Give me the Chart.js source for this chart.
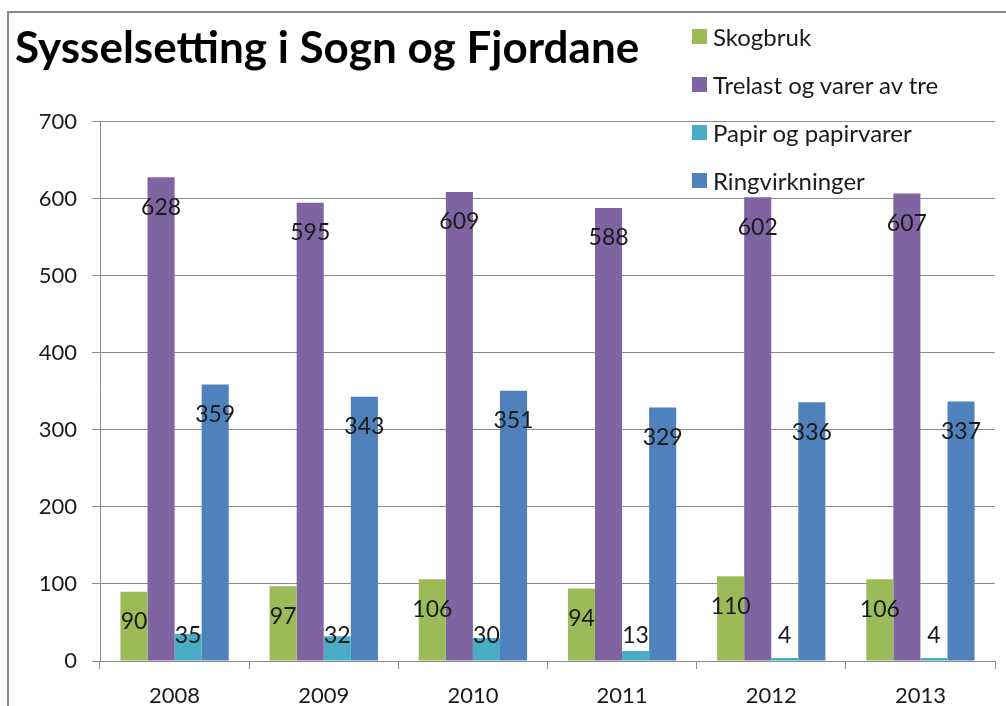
<!DOCTYPE html>
<html>
<head>
<meta charset="utf-8">
<script src="https://cdn.jsdelivr.net/npm/chart.js@4"></script>
<style>
html,body{margin:0;padding:0;background:#fff;}
#wrap{position:relative;width:1006px;height:706px;overflow:hidden;}
#c{position:absolute;left:0;top:0;}
#legend{position:absolute;left:692px;top:13px;font-family:Lato,"Open Sans",sans-serif;font-size:24px;color:#1a1a1a;}
.item{display:flex;align-items:center;height:47.8px;white-space:nowrap;}
.box{width:15px;height:15px;margin-right:6px;flex:none;}
</style>
</head>
<body>
<div id="wrap">
<canvas id="c" width="1006" height="706"></canvas>
<div id="legend"></div>
</div>
<script>
const categories = ['2008','2009','2010','2011','2012','2013'];
const seriesNames = ['Skogbruk','Trelast og varer av tre','Papir og papirvarer','Ringvirkninger'];
const skogbruk = [90, 97, 106, 94, 110, 106];
const trelast = [628, 595, 609, 588, 602, 607];
const papir = [35, 32, 30, 13, 4, 4];
const ringvirkninger = [359, 343, 351, 329, 336, 337];
const seriesColors = ['#9BBB59', '#8064A2', '#4BACC6', '#4F81BD'];
const yMin = 0, yMax = 700, yStep = 100;
const titleText = 'Sysselsetting i Sogn og Fjordane';

const seriesValues = [skogbruk, trelast, papir, ringvirkninger];
const FONT = 'Lato, "Open Sans", sans-serif';
const GRID = '#8c8c8c';

// HTML legend
const lg = document.getElementById('legend');
seriesNames.forEach((n, i) => {
  const it = document.createElement('div'); it.className = 'item';
  const b = document.createElement('span'); b.className = 'box'; b.style.background = seriesColors[i];
  const t = document.createElement('span'); t.textContent = n;
  it.appendChild(b); it.appendChild(t); lg.appendChild(it);
});

const framePlugin = {
  id: 'frame',
  beforeDraw(chart) {
    const ctx = chart.ctx;
    ctx.save();
    ctx.strokeStyle = '#8a8a8a';
    ctx.lineWidth = 2;
    ctx.beginPath();
    ctx.moveTo(8, 706); ctx.lineTo(8, 12); ctx.lineTo(1006, 12);
    ctx.stroke();
    ctx.restore();
  }
};

const labelPlugin = {
  id: 'valueLabels',
  afterDatasetsDraw(chart) {
    const ctx = chart.ctx;
    const zero = chart.scales.y.getPixelForValue(0);
    ctx.save();
    ctx.font = '23px ' + FONT;
    ctx.fillStyle = '#1a1a1a';
    ctx.textAlign = 'center';
    ctx.textBaseline = 'middle';
    chart.data.datasets.forEach((ds, di) => {
      const meta = chart.getDatasetMeta(di);
      meta.data.forEach((el, i) => {
        const y = Math.min(el.y + 30, zero - 25);
        ctx.fillText(String(ds.data[i]), el.x, y);
      });
    });
    ctx.restore();
  }
};

new Chart(document.getElementById('c'), {
  type: 'bar',
  data: {
    labels: categories,
    datasets: seriesNames.map((n, i) => ({
      label: n,
      data: seriesValues[i],
      backgroundColor: seriesColors[i],
      borderWidth: 0,
      categoryPercentage: 0.726,
      barPercentage: 1.0
    }))
  },
  options: {
    responsive: false,
    animation: false,
    layout: { padding: { left: 15, right: 11, top: 12, bottom: 0 } },
    plugins: {
      legend: { display: false },
      tooltip: { enabled: false },
      title: {
        display: true,
        text: titleText,
        align: 'start',
        color: '#000',
        font: { family: FONT, weight: 'bold', size: 44, lineHeight: 1.2 },
        padding: { top: 10, bottom: 47 }
      }
    },
    scales: {
      x: {
        grid: { display: true, drawOnChartArea: false, drawTicks: true, tickLength: 8, color: GRID, offset: true },
        border: { color: GRID, width: 1 },
        ticks: { color: '#1a1a1a', font: { family: FONT, size: 22 }, padding: 14 },
        afterFit(s) { s.height = 45; }
      },
      y: {
        min: yMin, max: yMax,
        grid: { color: GRID, tickLength: 8 },
        border: { color: GRID, width: 1 },
        ticks: { stepSize: yStep, color: '#1a1a1a', font: { family: FONT, size: 22 }, padding: 15 },
        afterFit(s) { s.width = 85; }
      }
    }
  },
  plugins: [framePlugin, labelPlugin]
});
</script>
</body>
</html>
